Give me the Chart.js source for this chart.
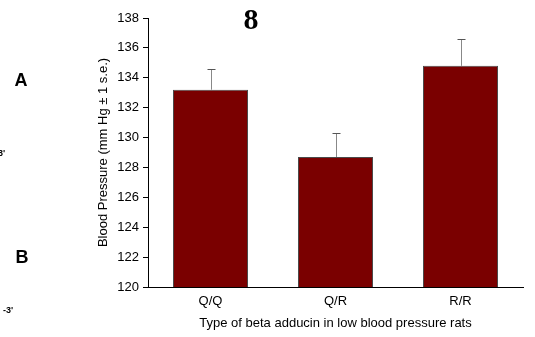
<!DOCTYPE html>
<html>
<head>
<meta charset="utf-8">
<script src="https://cdn.jsdelivr.net/npm/chart.js@4"></script>
<style>
  html, body { margin: 0; padding: 0; background: #fff; }
  #wrap { width: 535px; height: 337px; }
</style>
</head>
<body>
<div id="wrap"><canvas id="mycanvas" width="535" height="337"></canvas></div>
<script>
// data
var genotypes = ['Q/Q', 'Q/R', 'R/R'];
var bp_mean = [133.2, 128.7, 134.8];
var bp_se = [1.4, 1.6, 1.8];
var y_min = 120, y_max = 138, y_step = 2;

// error bars drawn from the y scale
var errorBars = {
	id: 'errorBars',
	afterDatasetsDraw: function(chart) {
		var ctx = chart.ctx;
		var meta = chart.getDatasetMeta(0);
		var y = chart.scales.y;
		ctx.save();
		for (var i = 0; i < bp_mean.length; i++) {
			var bar = meta.data[i];
			var top = y.getPixelForValue(bp_mean[i] + bp_se[i]);
			var base = y.getPixelForValue(bp_mean[i]);
			var x = Math.round(bar.x) + 0.5;
			ctx.strokeStyle = '#888';
			ctx.lineWidth = 1;
			ctx.beginPath();
			ctx.moveTo(x, base);
			ctx.lineTo(x, Math.round(top));
			ctx.stroke();
			ctx.strokeStyle = '#555';
			ctx.beginPath();
			ctx.moveTo(x - 4, Math.round(top) + 0.5);
			ctx.lineTo(x + 4, Math.round(top) + 0.5);
			ctx.stroke();
		}
		ctx.restore();
	}
};

// loose labels around the panel
var panelText = {
	id: 'panelText',
	afterDraw: function(chart) {
		var ctx = chart.ctx;
		ctx.save();
		ctx.fillStyle = '#000';
		ctx.textBaseline = 'middle';
		ctx.textAlign = 'center';
		ctx.font = 'bold 30px "Liberation Serif", serif';
		ctx.fillText('8', 251, 21);
		ctx.font = 'bold 18px "Liberation Sans", Arial, sans-serif';
		ctx.fillText('A', 21, 81);
		ctx.fillText('B', 22, 258);
		ctx.font = 'bold 9px "Liberation Sans", Arial, sans-serif';
		ctx.textAlign = 'left';
		ctx.fillText("3'", -2, 154);
		ctx.fillText("-3'", 3, 311);
		ctx.restore();
	}
};

var chartdata = {
	labels: genotypes,
	datasets: [
		{
			label: 'Blood Pressure',
			data: bp_mean,
			backgroundColor: '#7a0000',
			borderColor: '#4a4a4a',
			borderWidth: 1,
			borderSkipped: 'bottom',
			barPercentage: 0.6,
			categoryPercentage: 1.0
		}
	]
};

Chart.defaults.font.family = '"Liberation Sans", Arial, sans-serif';
Chart.defaults.font.size = 13;
Chart.defaults.color = '#000';

var BarGraph = new Chart(document.getElementById('mycanvas'), {
	type: 'bar',
	data: chartdata,
	plugins: [errorBars, panelText],
	options: {
		responsive: false,
		animation: false,
		layout: { padding: { left: 92, top: 18, right: 12, bottom: 0 } },
		plugins: {
			legend: { display: false },
			tooltip: { enabled: false }
		},
		scales: {
			x: {
				grid: { display: true, drawOnChartArea: false, drawTicks: false, tickLength: 0 },
				border: { color: '#000', width: 1 },
				ticks: { padding: 7, font: { size: 13 } },
				title: { display: true, text: 'Type of beta adducin in low blood pressure rats', font: { size: 13 }, padding: { top: 4, bottom: 6 } },
				afterFit: function(scale) { scale.height = 50; }
			},
			y: {
				min: y_min,
				max: y_max,
				grid: { drawOnChartArea: false, drawTicks: true, tickLength: 5, color: '#000' },
				border: { color: '#000', width: 1 },
				ticks: { stepSize: y_step, padding: 4, font: { size: 13 } },
				title: { display: true, text: 'Blood Pressure (mm Hg ± 1 s.e.)', font: { size: 13 }, padding: { top: 4, bottom: 0 } },
				afterFit: function(scale) { scale.width = 56; }
			}
		}
	}
});
</script>
</body>
</html>
